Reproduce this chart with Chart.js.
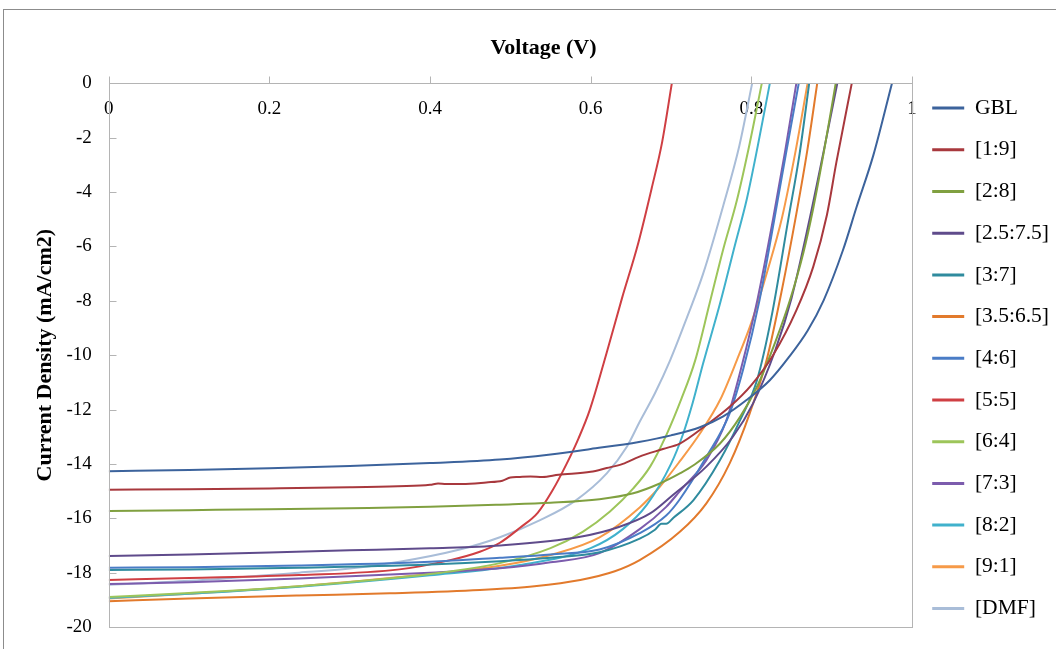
<!DOCTYPE html>
<html>
<head>
<meta charset="utf-8">
<script src="https://cdn.jsdelivr.net/npm/chart.js@4/dist/chart.umd.min.js"></script>
<style>
  html, body { margin: 0; padding: 0; background: #fff; overflow: hidden; }
  #frame { position: absolute; left: 3px; top: 9px; width: 1060px; height: 710px; border: 1px solid #8c8c8c; background: #fff; }
  #frame canvas { display: block; }
</style>
</head>
<body>
<div id="frame"><canvas id="jv" width="1060" height="700"></canvas></div>
<script>
// J-V curves: [voltage (V), current density (mA/cm2)]
const gbl = [[0,-14.27],[0.1,-14.22],[0.2,-14.16],[0.3,-14.08],[0.4,-13.97],[0.487,-13.84],[0.55,-13.65],[0.6,-13.45],[0.66,-13.19],[0.7,-12.95],[0.736,-12.65],[0.765,-12.25],[0.794,-11.65],[0.823,-10.92],[0.846,-10.1],[0.87,-9.1],[0.89,-7.98],[0.914,-6.14],[0.931,-4.55],[0.952,-2.63],[0.975,0]];
const r19 = [[0,-14.95],[0.1,-14.93],[0.2,-14.9],[0.3,-14.86],[0.36,-14.82],[0.4,-14.77],[0.41,-14.72],[0.42,-14.74],[0.44,-14.74],[0.47,-14.68],[0.49,-14.62],[0.5,-14.5],[0.51,-14.48],[0.525,-14.46],[0.54,-14.48],[0.56,-14.4],[0.6,-14.29],[0.62,-14.15],[0.64,-14.0],[0.66,-13.74],[0.69,-13.45],[0.711,-13.25],[0.744,-12.57],[0.773,-11.9],[0.8,-11.1],[0.827,-10.0],[0.856,-8.35],[0.877,-6.75],[0.894,-4.85],[0.906,-2.88],[0.925,0]];
const r28 = [[0,-15.73],[0.1,-15.7],[0.2,-15.67],[0.3,-15.63],[0.4,-15.58],[0.487,-15.5],[0.55,-15.43],[0.611,-15.3],[0.653,-15.08],[0.686,-14.72],[0.711,-14.35],[0.728,-14.05],[0.761,-13.25],[0.786,-12.27],[0.807,-11.16],[0.83,-9.5],[0.848,-7.98],[0.865,-6.2],[0.877,-4.6],[0.891,-2.4],[0.905,0]];
const r25 = [[0,-17.39],[0.1,-17.33],[0.2,-17.26],[0.3,-17.18],[0.4,-17.1],[0.487,-17.0],[0.587,-16.68],[0.636,-16.31],[0.674,-15.82],[0.702,-15.15],[0.744,-14.1],[0.777,-13.0],[0.802,-11.78],[0.83,-9.8],[0.85,-7.9],[0.871,-5.2],[0.89,-2.5],[0.907,0]];
const r37 = [[0,-17.9],[0.1,-17.88],[0.237,-17.82],[0.4,-17.7],[0.487,-17.58],[0.55,-17.45],[0.611,-17.25],[0.661,-16.75],[0.68,-16.42],[0.688,-16.2],[0.694,-16.2],[0.703,-15.98],[0.728,-15.33],[0.761,-13.86],[0.786,-12.39],[0.807,-10.92],[0.825,-8.6],[0.846,-5.0],[0.86,-2.6],[0.872,0]];
const r35 = [[0,-19.05],[0.1,-18.95],[0.237,-18.84],[0.35,-18.76],[0.462,-18.64],[0.53,-18.5],[0.587,-18.27],[0.63,-17.95],[0.661,-17.54],[0.711,-16.5],[0.744,-15.45],[0.773,-13.98],[0.798,-12.14],[0.819,-10.18],[0.838,-7.6],[0.856,-4.8],[0.87,-2.4],[0.882,0]];
const r46 = [[0,-17.82],[0.1,-17.8],[0.237,-17.74],[0.4,-17.6],[0.487,-17.45],[0.55,-17.33],[0.611,-17.15],[0.661,-16.55],[0.694,-15.9],[0.711,-15.3],[0.744,-13.74],[0.773,-12.14],[0.79,-10.5],[0.81,-8.0],[0.828,-5.1],[0.843,-2.6],[0.859,0]];
const r55 = [[0,-18.27],[0.1,-18.2],[0.237,-18.09],[0.362,-17.88],[0.425,-17.54],[0.462,-17.23],[0.487,-16.9],[0.512,-16.35],[0.534,-15.8],[0.552,-15.0],[0.57,-14.0],[0.585,-13.05],[0.599,-12.0],[0.619,-10.0],[0.639,-7.9],[0.659,-5.9],[0.676,-3.85],[0.689,-2.15],[0.701,0]];
const r64 = [[0,-18.9],[0.1,-18.75],[0.237,-18.5],[0.4,-18.05],[0.487,-17.65],[0.55,-17.1],[0.59,-16.5],[0.624,-15.75],[0.653,-14.9],[0.674,-14.1],[0.694,-12.95],[0.713,-11.6],[0.73,-10.2],[0.748,-8.1],[0.765,-6.1],[0.782,-4.3],[0.798,-2.2],[0.813,0]];
const r73 = [[0,-18.42],[0.1,-18.35],[0.237,-18.22],[0.4,-18.0],[0.487,-17.84],[0.55,-17.62],[0.611,-17.28],[0.661,-16.4],[0.694,-15.58],[0.711,-15.0],[0.744,-13.86],[0.769,-12.39],[0.788,-10.4],[0.808,-7.9],[0.827,-5.0],[0.842,-2.5],[0.856,0]];
const r82 = [[0,-18.93],[0.1,-18.78],[0.237,-18.52],[0.4,-18.1],[0.512,-17.72],[0.6,-17.1],[0.64,-16.4],[0.67,-15.5],[0.7,-14.0],[0.715,-12.9],[0.727,-11.75],[0.74,-10.3],[0.761,-8.1],[0.78,-5.9],[0.794,-4.3],[0.808,-2.3],[0.823,0]];
const r91 = [[0,-18.95],[0.1,-18.78],[0.237,-18.5],[0.4,-18.05],[0.487,-17.75],[0.55,-17.35],[0.611,-16.7],[0.661,-15.6],[0.686,-14.84],[0.711,-13.9],[0.736,-12.88],[0.761,-11.65],[0.782,-10.18],[0.8,-8.8],[0.82,-6.9],[0.838,-4.96],[0.855,-2.5],[0.87,0]];
const dmf = [[0,-18.45],[0.1,-18.3],[0.237,-18.0],[0.3,-17.85],[0.362,-17.6],[0.437,-17.15],[0.487,-16.7],[0.537,-16.07],[0.582,-15.33],[0.62,-14.35],[0.645,-13.37],[0.661,-12.45],[0.68,-11.4],[0.699,-10.18],[0.72,-8.6],[0.74,-7.0],[0.765,-4.5],[0.785,-2.3],[0.801,0]];

const seriesNames = ['GBL', '[1:9]', '[2:8]', '[2.5:7.5]', '[3:7]', '[3.5:6.5]', '[4:6]', '[5:5]', '[6:4]', '[7:3]', '[8:2]', '[9:1]', '[DMF]'];
const seriesData = [gbl, r19, r28, r25, r37, r35, r46, r55, r64, r73, r82, r91, dmf];
const colors = ['#3c639c', '#a8383d', '#80a040', '#5f4b8b', '#2f8b9e', '#e27a2c', '#4a7cc6', '#cf3f43', '#9dc55a', '#7c5cad', '#40b1cc', '#f69a48', '#a9bdd8'];

const xTicks = [0, 0.2, 0.4, 0.6, 0.8, 1];
const yTicks = [0, -2, -4, -6, -8, -10, -12, -14, -16, -18, -20];

const serif = 'Liberation Serif, Times New Roman, serif';

// grey box round the plot area plus the short spreadsheet-style tick marks
const plotFrame = {
  id: 'plotFrame',
  afterDatasetsDraw(chart) {
    const { ctx, chartArea: a, scales: { x, y } } = chart;
    const left = Math.round(a.left) + 0.5;
    const top = Math.round(a.top) + 0.5;
    ctx.save();
    ctx.strokeStyle = '#b4b4b4';
    ctx.lineWidth = 1;
    ctx.strokeRect(left, top, Math.round(a.right - a.left), Math.round(a.bottom - a.top));
    ctx.beginPath();
    x.ticks.forEach(t => {
      const px = Math.round(x.getPixelForValue(t.value)) + 0.5;
      ctx.moveTo(px, top);
      ctx.lineTo(px, top - 7);
    });
    y.ticks.forEach(t => {
      const py = Math.round(y.getPixelForValue(t.value)) + 0.5;
      ctx.moveTo(left, py);
      ctx.lineTo(left + 7, py);
    });
    ctx.stroke();
    ctx.restore();
  }
};

new Chart(document.getElementById('jv'), {
  type: 'line',
  data: {
    datasets: seriesData.map((s, i) => ({
      label: seriesNames[i],
      data: s.map(([x, y]) => ({ x, y })),
      borderColor: colors[i],
      backgroundColor: colors[i],
      borderWidth: 2,
      pointRadius: 0,
      cubicInterpolationMode: 'monotone',
      fill: false,
    })),
  },
  options: {
    responsive: false,
    animation: false,
    layout: { padding: { left: 24, right: 5, top: 25, bottom: 28.4 } },
    scales: {
      x: {
        type: 'linear',
        position: { y: 0 },
        min: 0,
        max: 1,
        afterBuildTicks: s => { s.ticks = xTicks.map(v => ({ value: v })); },
        grid: { display: false, drawTicks: false },
        border: { display: false },
        ticks: {
          padding: 14,
          color: '#000',
          font: { family: serif, size: 19 },
          callback: v => String(Number(v.toFixed(1))),
        },
      },
      y: {
        type: 'linear',
        min: -20,
        max: 0,
        afterBuildTicks: s => { s.ticks = yTicks.map(v => ({ value: v })); },
        grid: { display: false, drawTicks: true, tickLength: 9 },
        border: { display: false },
        ticks: { padding: 8, color: '#000', font: { family: serif, size: 19 } },
        title: {
          display: true,
          text: 'Current Density (mA/cm2)',
          color: '#000',
          font: { family: serif, size: 22, weight: 'bold' },
          padding: { top: 4, bottom: 0 },
        },
      },
    },
    plugins: {
      title: {
        display: true,
        text: 'Voltage (V)',
        color: '#000',
        font: { family: serif, size: 22, weight: 'bold' },
        padding: { top: 0, bottom: 22 },
      },
      // empty strip under the plot so the legend column can run lower than the plot
      subtitle: {
        display: true,
        position: 'bottom',
        text: ' ',
        font: { size: 1 },
        padding: { top: 53.4, bottom: 0 },
      },
      legend: {
        position: 'right',
        align: 'center',
        labels: {
          usePointStyle: true,
          pointStyle: 'line',
          pointStyleWidth: 32,
          padding: 20.2,
          color: '#000',
          font: { family: serif, size: 21.5 },
          generateLabels: chart => Chart.defaults.plugins.legend.labels.generateLabels(chart).map(l => ({ ...l, lineWidth: 3 })),
        },
      },
      tooltip: { enabled: false },
    },
  },
  plugins: [plotFrame],
});
</script>
</body>
</html>
